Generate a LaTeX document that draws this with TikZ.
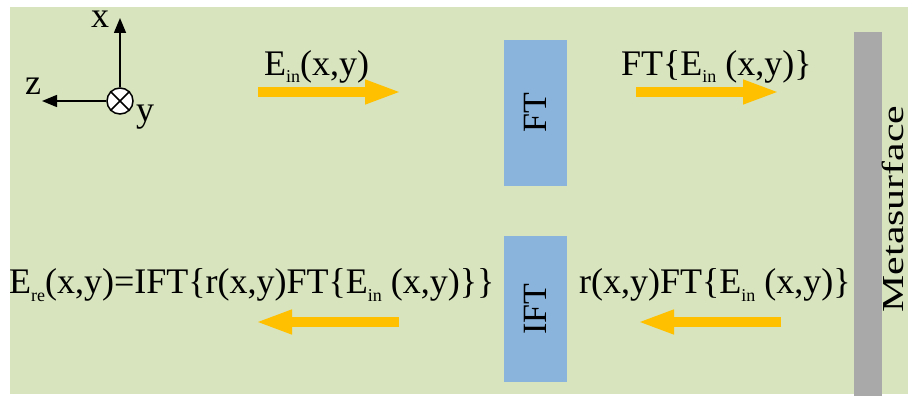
\documentclass[tikz,border=0pt]{standalone}
\usepackage{fontspec}
\setmainfont{Liberation Serif}
\usetikzlibrary{arrows.meta}
\definecolor{bgreen}{HTML}{D7E4BD}
\definecolor{boxblue}{HTML}{8AB4DC}
\definecolor{arrorange}{HTML}{FFC000}
\definecolor{bargray}{HTML}{A9A9A9}
\newcommand{\mysub}[1]{\raisebox{-8pt}{\fontsize{18}{18}\selectfont #1}}
\tikzset{
  lbl/.style={inner sep=0pt, anchor=base west, font=\fontsize{36}{40}\selectfont},
  axlbl/.style={inner sep=0pt, font=\fontsize{36}{40}\selectfont},
  fbox/.style={fill=boxblue, draw=none, minimum width=63pt, minimum height=146pt, inner sep=0pt},
  boxtxt/.style={rotate=90, inner sep=0pt, font=\fontsize{34}{40}\selectfont},
  bigarrow/.style={draw=arrorange, line width=10pt, -{Triangle[length=37pt,width=22pt,fill=arrorange,color=arrorange]}},
  axarrow/.style={draw=black, line width=1.5pt, -{Triangle[length=15pt,width=12pt]}},
}
\begin{document}
\begin{tikzpicture}[x=1pt,y=-1pt]
\useasboundingbox (0,0) rectangle (908,396);
\fill[white] (0,0) rectangle (908,396);
\fill[bgreen] (10,7) rectangle (908,394);
% metasurface bar
\fill[bargray] (854,32) rectangle (882,396);
\node[rotate=90, anchor=base, inner sep=0pt] (meta) at (903,209)
  {\scalebox{1.37}[1]{\fontsize{30.5}{34}\selectfont Metasurface}};
% boxes
\node[fbox] (ft) at (535.5,113) {};
\node[boxtxt] (fttxt) at (ft.center) {FT};
\node[fbox] (ift) at (535.5,309) {};
\node[boxtxt] (ifttxt) at (ift.center) {IFT};
% axes
\coordinate (o) at (120,101);
\coordinate (xt) at (120,18);
\coordinate (zt) at (42,101);
\node[circle, draw=black, line width=1.5pt, fill=white, minimum size=26pt, inner sep=0pt] (yc) at (o) {};
\draw[line width=1.5pt] (yc.north east) -- (yc.south west) (yc.north west) -- (yc.south east);
\draw[axarrow] (yc.north) -- (xt);
\draw[axarrow] (yc.west) -- (zt);
\node[axlbl] (xl) at (100,19) {x};
\node[axlbl] (zl) at (33,86) {z};
\node[axlbl] (yl) at (145,117) {y};
% labels
\node[lbl] (l1) at (264,75) {E\mysub{in}(x,y)};
\node[lbl] (l2) at (621,75) {FT\{E\mysub{in} (x,y)\}};
\node[lbl] (l3) at (9,293) {E\mysub{re}(x,y)=IFT\{r(x,y)FT\{E\mysub{in} (x,y)\}\}};
\node[lbl] (l4) at (579,293) {r(x,y)FT\{E\mysub{in} (x,y)\}};
% orange arrows
\coordinate (a1s) at (258,92); \coordinate (a1e) at (402,92);
\coordinate (a2s) at (636,92); \coordinate (a2e) at (780,92);
\coordinate (a3s) at (399,322); \coordinate (a3e) at (255,322);
\coordinate (a4s) at (781,322); \coordinate (a4e) at (637,322);
\draw[bigarrow] (a1s) -- (a1e);
\draw[bigarrow] (a2s) -- (a2e);
\draw[bigarrow] (a3s) -- (a3e);
\draw[bigarrow] (a4s) -- (a4e);
\end{tikzpicture}
\end{document}
